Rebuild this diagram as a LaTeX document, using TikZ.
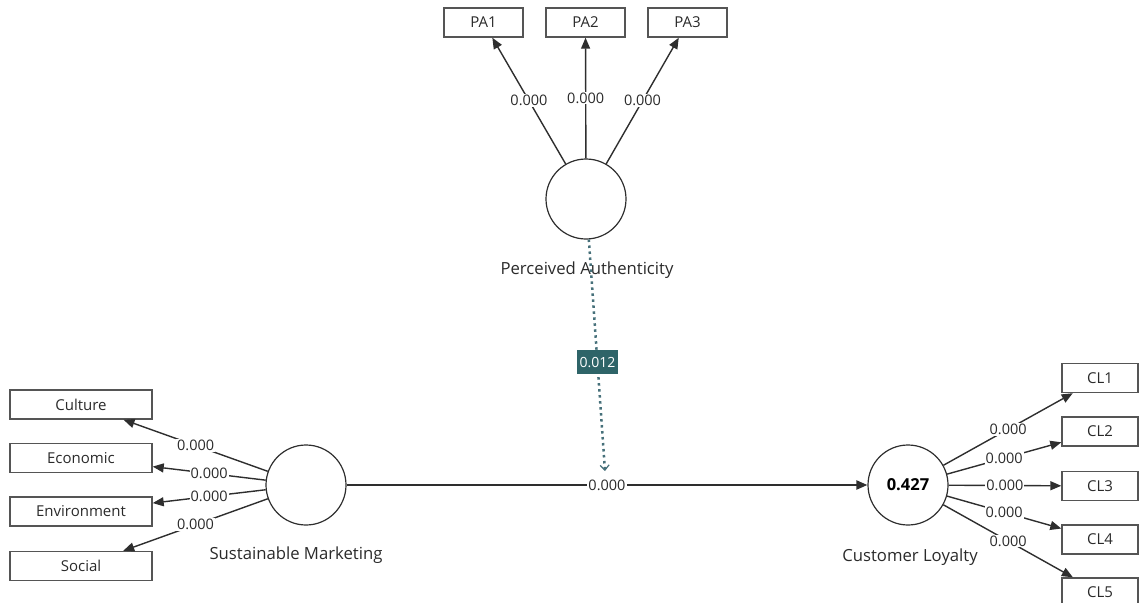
\documentclass[tikz,border=0pt]{standalone}
\usepackage{fontspec}
\setmainfont{Open Sans}
\usetikzlibrary{arrows.meta}
\definecolor{ink}{HTML}{2A2A2A}
\definecolor{edge}{HTML}{2E2E2E}
\definecolor{boxedge}{HTML}{555555}
\definecolor{teal}{HTML}{2E6468}
\definecolor{tealline}{HTML}{46707A}
\begin{document}
\begin{tikzpicture}[x=1pt,y=-1pt,
  ind/.style={draw=boxedge, line width=1.4pt, minimum height=29pt, inner sep=0pt,
    font=\fontsize{15}{17}\selectfont, text=ink},
  lat/.style={circle, draw=edge, line width=1.2pt, minimum size=80pt, inner sep=0pt,
    text=black, font=\fontsize{16.5}{18}\selectfont\bfseries},
  load/.style={draw=edge, line width=1.4pt, -{Triangle[length=11pt,width=9pt]}},
  lab/.style={fill=white, inner sep=1pt, font=\fontsize{14.5}{16}\selectfont, text=ink},
  latname/.style={font=\fontsize{16.7}{19}\selectfont, text=ink},
  modline/.style={draw=tealline, line width=2.5pt, dash pattern=on 2.5pt off 3.5pt,
    -{Straight Barb[length=5pt,width=9pt,line width=1.2pt]}},
  modlab/.style={fill=teal, text=white, inner sep=2pt, minimum height=24pt, minimum width=41pt,
    font=\fontsize{14}{16}\selectfont},
]
\clip (0,0) rectangle (1139,602);
% latent variables
\node[lat] (pa) at (586,199) {};
\node[lat] (sm) at (306,485) {};
\node[lat] (cl) at (908,485) {0.427};
\node[latname] (paname) at (587,270) {Perceived Authenticity};
\node[latname] (smname) at (296,555) {Sustainable Marketing};
\node[latname] (clname) at (910,557) {Customer Loyalty};
% indicators
\node[ind, minimum width=79pt] (pa1) at (483.5,22.5) {PA1};
\node[ind, minimum width=79pt] (pa2) at (585.5,22.5) {PA2};
\node[ind, minimum width=79pt] (pa3) at (687.5,22.5) {PA3};
\node[ind, minimum width=142pt] (cul) at (81,404.5) {Culture};
\node[ind, minimum width=142pt] (eco) at (81,458) {Economic};
\node[ind, minimum width=142pt] (env) at (81,511.5) {Environment};
\node[ind, minimum width=142pt] (soc) at (81,566) {Social};
\node[ind, minimum width=76pt] (cl1) at (1100,378) {CL1};
\node[ind, minimum width=76pt] (cl2) at (1100,431.5) {CL2};
\node[ind, minimum width=76pt] (cl3) at (1100,486) {CL3};
\node[ind, minimum width=76pt] (cl4) at (1100,539.5) {CL4};
\node[ind, minimum width=76pt] (cl5) at (1100,592.5) {CL5};
% loadings
\draw[load] (pa) -- node[lab] {0.000} (pa1);
\draw[load] (pa) -- node[lab] {0.000} (pa2);
\draw[load] (pa) -- node[lab] {0.000} (pa3);
\draw[load] (sm) -- node[lab] {0.000} (cul);
\draw[load] (sm) -- node[lab] {0.000} (eco);
\draw[load] (sm) -- node[lab] {0.000} (env);
\draw[load] (sm) -- node[lab] {0.000} (soc);
\draw[load] (cl) -- node[lab] {0.000} (cl1);
\draw[load] (cl) -- node[lab] {0.000} (cl2);
\draw[load] (cl) -- node[lab] {0.000} (cl3);
\draw[load] (cl) -- node[lab] {0.000} (cl4);
\draw[load] (cl) -- node[lab] {0.000} (cl5);
% structural path
\draw[load, line width=2.2pt] (sm) -- node[lab] {0.000} (cl);
% moderation
\coordinate (mod) at (605,471);
\draw[modline] (pa) -- node[modlab, pos=0.53] {0.012} (mod);
\end{tikzpicture}
\end{document}
